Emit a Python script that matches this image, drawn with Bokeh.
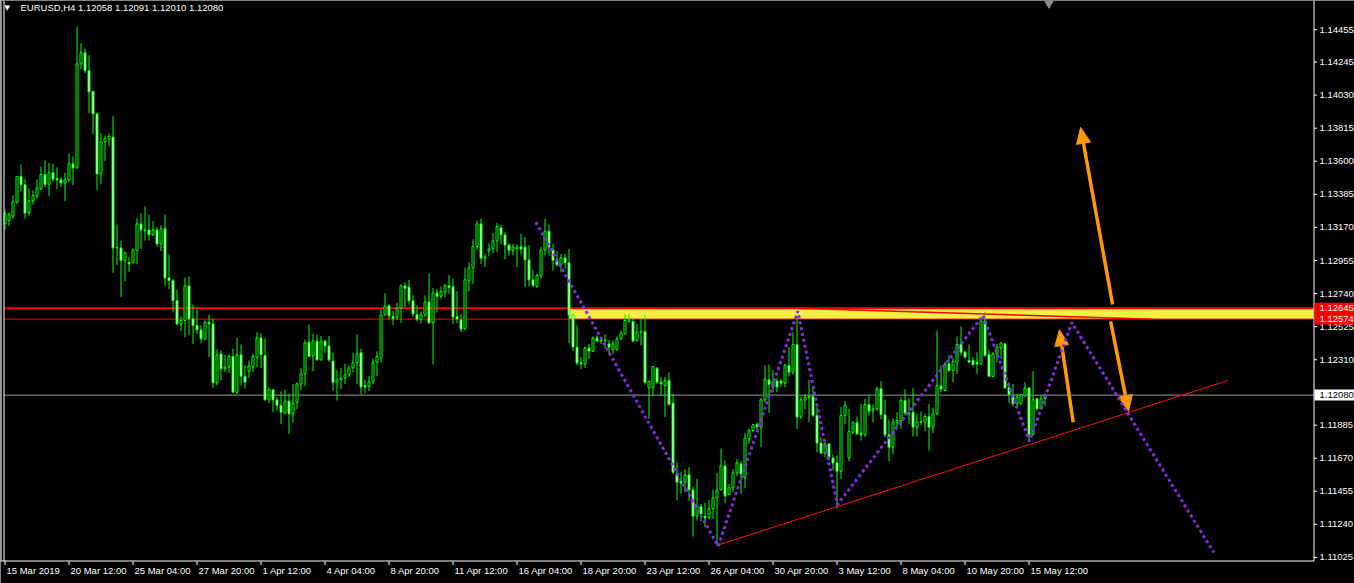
import math
from bokeh.plotting import figure
from bokeh.models import ColumnDataSource, Range1d, Label
from bokeh.core.properties import value
from bokeh.embed import file_html
from bokeh.resources import INLINE

symbol = "EURUSD,H4"

# H4 candles, oldest first
opens = [
    1.13193, 1.13215, 1.13243, 1.13334, 1.13501, 1.13447, 1.13263, 1.13343, 1.13373, 1.13419,
    1.13514, 1.13451, 1.13525, 1.13488, 1.13479, 1.13458, 1.13479, 1.13583, 1.13557, 1.14233,
    1.14305, 1.14190, 1.14054, 1.13908, 1.13518, 1.13726, 1.13744, 1.13757, 1.13037, 1.13037,
    1.12955, 1.12942, 1.12940, 1.13020, 1.13193, 1.13154, 1.13154, 1.13122, 1.13154, 1.13063,
    1.13161, 1.12842, 1.12825, 1.12695, 1.12543, 1.12565, 1.12790, 1.12576, 1.12533, 1.12504,
    1.12446, 1.12554, 1.12543, 1.12160, 1.12348, 1.12251, 1.12262, 1.12331, 1.12099, 1.12342,
    1.12203, 1.12236, 1.12266, 1.12327, 1.12452, 1.12338, 1.12049, 1.12114, 1.12049, 1.12013,
    1.11963, 1.12041, 1.11958, 1.12034, 1.12153, 1.12218, 1.12424, 1.12335, 1.12431, 1.12309,
    1.12431, 1.12400, 1.12301, 1.12164, 1.12181, 1.12192, 1.12212, 1.12257, 1.12290, 1.12355,
    1.12143, 1.12136, 1.12166, 1.12294, 1.12322, 1.12602, 1.12660, 1.12591, 1.12582, 1.12645,
    1.12790, 1.12782, 1.12693, 1.12602, 1.12574, 1.12602, 1.12686, 1.12550, 1.12743, 1.12723,
    1.12749, 1.12790, 1.12784, 1.12591, 1.12569, 1.12509, 1.12823, 1.12907, 1.13046, 1.13193,
    1.12970, 1.13018, 1.13031, 1.13083, 1.13167, 1.13122, 1.13055, 1.13022, 1.13031, 1.13044,
    1.13042, 1.12959, 1.12829, 1.12786, 1.12855, 1.13024, 1.13146, 1.13024, 1.12955, 1.12927,
    1.12972, 1.12940, 1.12602, 1.12392, 1.12290, 1.12283, 1.12387, 1.12366, 1.12452, 1.12439,
    1.12435, 1.12413, 1.12374, 1.12374, 1.12446, 1.12478, 1.12559, 1.12559, 1.12435, 1.12489,
    1.12494, 1.12127, 1.12127, 1.12255, 1.12164, 1.12143, 1.12175, 1.12028, 1.11568, 1.11521,
    1.11514, 1.11562, 1.11464, 1.11293, 1.11356, 1.11293, 1.11282, 1.11341, 1.11412, 1.11464,
    1.11620, 1.11434, 1.11477, 1.11575, 1.11633, 1.11542, 1.11796, 1.11850, 1.11887, 1.11872,
    1.12049, 1.12179, 1.12132, 1.12171, 1.12171, 1.12158, 1.12273, 1.12229, 1.12409, 1.11937,
    1.12049, 1.12062, 1.12071, 1.11948, 1.11768, 1.11703, 1.11763, 1.11672, 1.11640, 1.11586,
    1.11948, 1.11672, 1.11839, 1.11900, 1.11833, 1.11822, 1.12019, 1.11978, 1.11991, 1.12121,
    1.11952, 1.11822, 1.11742, 1.11902, 1.11911, 1.12045, 1.11963, 1.11969, 1.11872, 1.11904,
    1.11904, 1.11941, 1.11872, 1.11958, 1.12140, 1.12110, 1.12283, 1.12240, 1.12294, 1.12409,
    1.12359, 1.12305, 1.12305, 1.12294, 1.12283, 1.12561, 1.12344, 1.12201, 1.12348, 1.12385,
    1.12413, 1.12127, 1.12084, 1.12023, 1.12023, 1.12078, 1.12127, 1.11824, 1.12056, 1.11991,
    1.12058,
]
highs = [
    1.13286, 1.13267, 1.13378, 1.13505, 1.13579, 1.13488, 1.13423, 1.13410, 1.13482, 1.13566,
    1.13605, 1.13590, 1.13583, 1.13560, 1.13497, 1.13525, 1.13648, 1.13631, 1.14476, 1.14366,
    1.14333, 1.14288, 1.14060, 1.13915, 1.13781, 1.13768, 1.13781, 1.13895, 1.13189, 1.13085,
    1.13012, 1.12979, 1.13033, 1.13228, 1.13261, 1.13306, 1.13254, 1.13209, 1.13172, 1.13183,
    1.13254, 1.12994, 1.12835, 1.12764, 1.12591, 1.12845, 1.12851, 1.12669, 1.12637, 1.12533,
    1.12565, 1.12604, 1.12576, 1.12377, 1.12370, 1.12342, 1.12348, 1.12381, 1.12452, 1.12409,
    1.12273, 1.12305, 1.12348, 1.12489, 1.12483, 1.12450, 1.12136, 1.12121, 1.12067, 1.12104,
    1.12114, 1.12084, 1.12153, 1.12162, 1.12257, 1.12442, 1.12539, 1.12478, 1.12474, 1.12465,
    1.12439, 1.12465, 1.12357, 1.12240, 1.12257, 1.12283, 1.12272, 1.12355, 1.12474, 1.12381,
    1.12179, 1.12205, 1.12316, 1.12364, 1.12639, 1.12741, 1.12673, 1.12626, 1.12680, 1.12799,
    1.12814, 1.12829, 1.12728, 1.12663, 1.12624, 1.12728, 1.12871, 1.12777, 1.12771, 1.12786,
    1.12803, 1.12862, 1.12836, 1.12754, 1.12608, 1.12910, 1.12944, 1.13092, 1.13215, 1.13226,
    1.12998, 1.13066, 1.13135, 1.13200, 1.13187, 1.13139, 1.13070, 1.13063, 1.13059, 1.13128,
    1.13107, 1.13053, 1.12894, 1.12868, 1.13042, 1.13226, 1.13189, 1.13063, 1.13016, 1.12998,
    1.12998, 1.13031, 1.12608, 1.12533, 1.12327, 1.12396, 1.12413, 1.12461, 1.12468, 1.12461,
    1.12474, 1.12439, 1.12435, 1.12461, 1.12500, 1.12608, 1.12608, 1.12576, 1.12543, 1.12576,
    1.12602, 1.12175, 1.12270, 1.12262, 1.12197, 1.12197, 1.12227, 1.12088, 1.11644, 1.11579,
    1.11599, 1.11612, 1.11486, 1.11536, 1.11373, 1.11380, 1.11399, 1.11464, 1.11575, 1.11733,
    1.11655, 1.11503, 1.11597, 1.11666, 1.11651, 1.11833, 1.11861, 1.11893, 1.11904, 1.12062,
    1.12275, 1.12279, 1.12244, 1.12190, 1.12186, 1.12283, 1.12392, 1.12489, 1.12608, 1.12071,
    1.12084, 1.12179, 1.12121, 1.12002, 1.11807, 1.11774, 1.11768, 1.11694, 1.11688, 1.12002,
    1.12041, 1.11991, 1.11911, 1.11941, 1.12023, 1.12056, 1.12078, 1.12019, 1.12136, 1.12169,
    1.12052, 1.11922, 1.11930, 1.11969, 1.12067, 1.12117, 1.12062, 1.12127, 1.11958, 1.11974,
    1.11958, 1.12023, 1.11997, 1.12500, 1.12273, 1.12294, 1.12338, 1.12320, 1.12461, 1.12526,
    1.12370, 1.12409, 1.12327, 1.12359, 1.12587, 1.12624, 1.12374, 1.12359, 1.12413, 1.12424,
    1.12418, 1.12164, 1.12153, 1.12088, 1.12088, 1.12164, 1.12132, 1.12236, 1.12062, 1.12082,
    1.12091,
]
lows = [
    1.13156, 1.13178, 1.13228, 1.13321, 1.13404, 1.13228, 1.13248, 1.13319, 1.13358, 1.13415,
    1.13432, 1.13373, 1.13469, 1.13419, 1.13432, 1.13339, 1.13464, 1.13443, 1.13550, 1.14197,
    1.14173, 1.13913, 1.13778, 1.13412, 1.13451, 1.13601, 1.13698, 1.12875, 1.12927, 1.12717,
    1.12821, 1.12879, 1.12935, 1.12933, 1.13029, 1.13085, 1.13085, 1.13115, 1.13042, 1.13016,
    1.12790, 1.12769, 1.12619, 1.12533, 1.12496, 1.12457, 1.12468, 1.12413, 1.12478, 1.12418,
    1.12439, 1.12327, 1.12127, 1.12143, 1.12175, 1.12229, 1.12223, 1.12093, 1.12088, 1.12143,
    1.12121, 1.12192, 1.12229, 1.12262, 1.12255, 1.12045, 1.12028, 1.11969, 1.11980, 1.11893,
    1.11954, 1.11828, 1.11904, 1.11989, 1.12110, 1.12138, 1.12327, 1.12236, 1.12305, 1.12305,
    1.12353, 1.12296, 1.12110, 1.12045, 1.12121, 1.12153, 1.12197, 1.12229, 1.12153, 1.12084,
    1.12093, 1.12106, 1.12153, 1.12203, 1.12292, 1.12595, 1.12569, 1.12535, 1.12569, 1.12550,
    1.12652, 1.12669, 1.12591, 1.12559, 1.12543, 1.12587, 1.12543, 1.12279, 1.12619, 1.12706,
    1.12717, 1.12738, 1.12543, 1.12548, 1.12489, 1.12504, 1.12754, 1.12803, 1.13024, 1.12933,
    1.12912, 1.12983, 1.13003, 1.13009, 1.13059, 1.12962, 1.12988, 1.12988, 1.12912, 1.12994,
    1.12782, 1.12786, 1.12782, 1.12775, 1.12836, 1.12988, 1.12988, 1.12890, 1.12916, 1.12879,
    1.12901, 1.12418, 1.12366, 1.12273, 1.12249, 1.12257, 1.12314, 1.12359, 1.12424, 1.12413,
    1.12381, 1.12348, 1.12348, 1.12370, 1.12440, 1.12474, 1.12554, 1.12424, 1.12430, 1.12403,
    1.12149, 1.11926, 1.12078, 1.12153, 1.12078, 1.11937, 1.12013, 1.11568, 1.11395, 1.11438,
    1.11449, 1.11395, 1.11161, 1.11265, 1.11261, 1.11222, 1.11276, 1.11276, 1.11103, 1.11460,
    1.11378, 1.11430, 1.11449, 1.11553, 1.11438, 1.11477, 1.11763, 1.11839, 1.11846, 1.11742,
    1.12034, 1.11965, 1.12099, 1.12099, 1.12132, 1.12132, 1.12201, 1.12214, 1.11861, 1.11926,
    1.11987, 1.11904, 1.11937, 1.11709, 1.11698, 1.11677, 1.11655, 1.11590, 1.11341, 1.11536,
    1.11893, 1.11649, 1.11828, 1.11824, 1.11785, 1.11807, 1.11948, 1.11904, 1.11980, 1.11922,
    1.11807, 1.11649, 1.11698, 1.11872, 1.11861, 1.11948, 1.11893, 1.11811, 1.11811, 1.11883,
    1.11846, 1.11720, 1.11833, 1.11953, 1.12099, 1.12104, 1.12229, 1.12164, 1.12218, 1.12338,
    1.12316, 1.12288, 1.12262, 1.12218, 1.12279, 1.12331, 1.12197, 1.12197, 1.12294, 1.12316,
    1.12121, 1.12028, 1.12006, 1.12006, 1.12019, 1.12067, 1.11774, 1.11818, 1.11980, 1.11989,
    1.12010,
]
closes = [
    1.13263, 1.13252, 1.13336, 1.13501, 1.13447, 1.13263, 1.13343, 1.13378, 1.13427, 1.13514,
    1.13451, 1.13525, 1.13484, 1.13479, 1.13458, 1.13479, 1.13583, 1.13557, 1.14233, 1.14305,
    1.14190, 1.14051, 1.13908, 1.13518, 1.13726, 1.13746, 1.13761, 1.13037, 1.13040, 1.12955,
    1.13005, 1.12933, 1.13024, 1.13193, 1.13154, 1.13150, 1.13122, 1.13154, 1.13063, 1.13161,
    1.12842, 1.12825, 1.12695, 1.12543, 1.12565, 1.12790, 1.12576, 1.12533, 1.12504, 1.12446,
    1.12554, 1.12543, 1.12160, 1.12342, 1.12251, 1.12262, 1.12331, 1.12099, 1.12342, 1.12203,
    1.12164, 1.12270, 1.12331, 1.12452, 1.12342, 1.12049, 1.12114, 1.12049, 1.12013, 1.11969,
    1.12041, 1.11958, 1.12028, 1.12153, 1.12218, 1.12420, 1.12331, 1.12431, 1.12309, 1.12431,
    1.12400, 1.12309, 1.12164, 1.12179, 1.12192, 1.12212, 1.12257, 1.12290, 1.12348, 1.12132,
    1.12132, 1.12166, 1.12294, 1.12331, 1.12602, 1.12660, 1.12595, 1.12578, 1.12645, 1.12790,
    1.12775, 1.12693, 1.12608, 1.12574, 1.12602, 1.12686, 1.12550, 1.12743, 1.12723, 1.12754,
    1.12793, 1.12780, 1.12587, 1.12574, 1.12509, 1.12829, 1.12907, 1.13046, 1.13193, 1.12970,
    1.12979, 1.13031, 1.13083, 1.13176, 1.13122, 1.13055, 1.13022, 1.13042, 1.13044, 1.13029,
    1.12959, 1.12829, 1.12793, 1.12858, 1.13024, 1.13146, 1.13042, 1.12955, 1.12927, 1.12972,
    1.12940, 1.12598, 1.12392, 1.12288, 1.12283, 1.12387, 1.12366, 1.12452, 1.12431, 1.12431,
    1.12439, 1.12392, 1.12413, 1.12446, 1.12483, 1.12565, 1.12569, 1.12431, 1.12489, 1.12496,
    1.12164, 1.12169, 1.12266, 1.12164, 1.12153, 1.12175, 1.12019, 1.11579, 1.11514, 1.11508,
    1.11562, 1.11464, 1.11293, 1.11356, 1.11308, 1.11282, 1.11341, 1.11412, 1.11464, 1.11620,
    1.11425, 1.11477, 1.11575, 1.11640, 1.11568, 1.11800, 1.11850, 1.11887, 1.11872, 1.12049,
    1.12184, 1.12149, 1.12164, 1.12132, 1.12158, 1.12273, 1.12229, 1.12409, 1.11937, 1.12049,
    1.12067, 1.12071, 1.11948, 1.11768, 1.11703, 1.11763, 1.11677, 1.11638, 1.11586, 1.11948,
    1.12013, 1.11844, 1.11900, 1.11828, 1.11822, 1.12019, 1.11976, 1.11991, 1.12121, 1.11952,
    1.11822, 1.11742, 1.11904, 1.11915, 1.12045, 1.11963, 1.11958, 1.11872, 1.11904, 1.11909,
    1.11941, 1.11872, 1.11958, 1.12143, 1.12119, 1.12283, 1.12240, 1.12299, 1.12409, 1.12359,
    1.12327, 1.12294, 1.12279, 1.12283, 1.12561, 1.12338, 1.12201, 1.12348, 1.12392, 1.12418,
    1.12127, 1.12084, 1.12023, 1.12067, 1.12084, 1.12127, 1.11824, 1.12049, 1.11991, 1.12056,
    1.12080,
]

time_tick_bars = [0, 16, 32, 48, 64, 80, 96, 112, 128, 144, 160, 176, 192, 208, 224, 240, 256]
time_tick_labels = ["15 Mar 2019", "20 Mar 12:00", "25 Mar 04:00", "27 Mar 20:00",
                    "1 Apr 12:00", "4 Apr 04:00", "8 Apr 20:00", "11 Apr 12:00",
                    "16 Apr 04:00", "18 Apr 20:00", "23 Apr 12:00", "26 Apr 04:00",
                    "30 Apr 20:00", "3 May 12:00", "8 May 04:00", "10 May 20:00",
                    "15 May 12:00"]
price_ticks = [1.11025, 1.11240, 1.11455, 1.11670, 1.11885, 1.12095, 1.12310, 1.12525,
               1.12740, 1.12955, 1.13170, 1.13385, 1.13600, 1.13815, 1.14030, 1.14245,
               1.14455]

# supply zone and hand-drawn analysis objects (bar index, price)
zone_top, zone_bottom = 1.12645, 1.12574
zone_start_bar = 141
zigzag_bars = [132.7, 178.3, 198.2, 208.1, 244.5, 256.1, 266.7, 302.2]
zigzag_prices = [1.13204, 1.11098, 1.12625, 1.11369, 1.12598, 1.11780, 1.12552, 1.11057]
support_bars = [178, 305.7]
support_prices = [1.11103, 1.12175]
zone_line_bars = [198, 287]
zone_line_prices = [1.12645, 1.12573]
arrow_from_bars = [276.9, 276.4, 267.05]
arrow_from_prices = [1.12669, 1.12559, 1.11904]
arrow_to_bars = [268.9, 280.9, 263.6]
arrow_to_prices = [1.13820, 1.11974, 1.12505]

# ---- layout: the plot frame fills the canvas, the price/time scales are drawn in it ----
W, H = 1354, 583
CHART_R, CHART_B = 1313, 560          # right and bottom edge of the price pane (px)
BAR_PX, FIRST_BAR_PX = 4.0, 4.5       # candle spacing and centre of bar 0 (px)
PRICE_TOP, PRICE_PER_PX = 1.14645, 0.000065


def bx(px):
    """canvas x pixel -> bar index"""
    return (px - FIRST_BAR_PX) / BAR_PX


def py(px):
    """canvas y pixel (from top) -> price"""
    return PRICE_TOP - px * PRICE_PER_PX


FONT = "Liberation Sans"
LIME = "#00ff00"
ORANGE = "#ff9a00"
PURPLE = "#8a2be2"
RED = "#ff0000"

p = figure(width=W, height=H, x_range=Range1d(bx(0), bx(W)), y_range=Range1d(py(H), py(0)),
           output_backend="svg", toolbar_location=None, x_axis_location=None,
           y_axis_location=None, min_border=0, background_fill_color="black",
           border_fill_color="black", outline_line_color=None)
for g in p.grid:
    g.visible = False


# ---- orange arrows (sit underneath the zone) ----
def arrow_head(fx, fy, tx, ty, length=16.0, half=7.0):
    dx = (tx - fx) * BAR_PX
    dy = (ty - fy) / PRICE_PER_PX
    n = math.hypot(dx, dy)
    ux, uy = dx / n, dy / n
    nx, ny = -uy, ux
    pts = [(0.0, 0.0),
           (-length * ux + half * nx, -length * uy + half * ny),
           (-length * ux - half * nx, -length * uy - half * ny)]
    xs = [tx + a / BAR_PX for a, _ in pts]
    ys = [ty + b * PRICE_PER_PX for _, b in pts]
    sx = tx - (length - 3) * ux / BAR_PX
    sy = ty - (length - 3) * uy * PRICE_PER_PX
    return xs, ys, sx, sy


head_xs, head_ys, shaft_x1, shaft_y1 = [], [], [], []
for fx, fy, tx, ty in zip(arrow_from_bars, arrow_from_prices, arrow_to_bars, arrow_to_prices):
    hx, hy, sx, sy = arrow_head(fx, fy, tx, ty)
    head_xs.append(hx)
    head_ys.append(hy)
    shaft_x1.append(sx)
    shaft_y1.append(sy)
p.segment(x0=arrow_from_bars, y0=arrow_from_prices, x1=shaft_x1, y1=shaft_y1,
          line_color=ORANGE, line_width=3.5)
p.patches(xs=head_xs, ys=head_ys, fill_color=ORANGE, line_color=ORANGE, line_width=1)

# ---- supply zone and horizontal levels ----
p.quad(left=[zone_start_bar], right=[bx(CHART_R)], top=[zone_top], bottom=[zone_bottom],
       fill_color="#f4f045", line_color=None)
p.segment(x0=[bx(3.5)] * 2, y0=[zone_top, zone_bottom], x1=[bx(CHART_R)] * 2,
          y1=[zone_top, zone_bottom], line_color=RED, line_width=[2, 1])
p.segment(x0=[bx(3.5)], y0=[closes[-1]], x1=[bx(CHART_R)], y1=[closes[-1]],
          line_color="#9a9a9a", line_width=1)

# ---- candles ----
bars = list(range(len(opens)))
src = ColumnDataSource(dict(
    x=bars, o=opens, h=highs, l=lows, c=closes,
    top=[max(a, b) for a, b in zip(opens, closes)],
    bottom=[min(a, b) for a, b in zip(opens, closes)],
    fill=["white" if c < o else "black" for o, c in zip(opens, closes)],
))
p.segment(x0="x", y0="l", x1="x", y1="h", line_color=LIME, line_width=1, source=src)
p.vbar(x="x", width=0.5, top="top", bottom="bottom", fill_color="fill",
       line_color=LIME, line_width=1, source=src)

# ---- trend lines and projected path ----
p.line(zone_line_bars, zone_line_prices, line_color=RED, line_width=1.5)
p.line(support_bars, support_prices, line_color="#ff1010", line_width=1)
p.line(zigzag_bars, zigzag_prices, line_color=PURPLE, line_width=3, line_dash="3 3")

# chart-shift marker at the top edge
p.scatter(x=[len(opens)], y=[py(2)], marker="inverted_triangle",
          size=10, fill_color="#8c8c8c", line_color="#8c8c8c")

# ---- pane borders ----
p.segment(x0=[bx(0.5), bx(3.5), bx(CHART_R + 0.5)], y0=[py(0)] * 3,
          x1=[bx(0.5), bx(3.5), bx(CHART_R + 0.5)], y1=[py(CHART_B + 0.5)] * 3,
          line_color="white", line_width=1)
p.segment(x0=[bx(0)], y0=[py(CHART_B + 0.5)], x1=[bx(CHART_R + 0.5)],
          y1=[py(CHART_B + 0.5)], line_color="white", line_width=1)

# ---- price scale ----
p.segment(x0=[bx(CHART_R + 0.5)] * len(price_ticks), y0=price_ticks,
          x1=[bx(CHART_R + 3.5)] * len(price_ticks), y1=price_ticks,
          line_color="white", line_width=1)
p.text(x=[bx(CHART_R + 6)] * len(price_ticks), y=price_ticks,
       text=[f"{t:.5f}" for t in price_ticks], text_color="white",
       text_font=value(FONT), text_font_size=value("9.5px"),
       text_align="left", text_baseline="middle")

# ---- time scale ----
p.segment(x0=time_tick_bars, y0=[py(CHART_B + 0.5)] * len(time_tick_bars),
          x1=time_tick_bars, y1=[py(CHART_B + 4.5)] * len(time_tick_bars),
          line_color="white", line_width=1)
p.text(x=[b + 1.5 / BAR_PX for b in time_tick_bars], y=[py(570)] * len(time_tick_bars),
       text=time_tick_labels, text_color="white",
       text_font=value(FONT), text_font_size=value("9.5px"),
       text_align="left", text_baseline="middle")

# ---- price tags on the scale ----
tag_prices = [zone_top, zone_bottom, closes[-1]]
tag_fill = [RED, RED, "white"]
tag_text = ["white", "white", "black"]
p.quad(left=[bx(CHART_R + 1)] * 3, right=[bx(W)] * 3,
       top=[t + 5.5 * PRICE_PER_PX for t in tag_prices],
       bottom=[t - 5.5 * PRICE_PER_PX for t in tag_prices],
       fill_color=tag_fill, line_color=None)
p.text(x=[bx(CHART_R + 6)] * 3, y=tag_prices, text=[f"{t:.5f}" for t in tag_prices],
       text_color=tag_text, text_font=value(FONT), text_font_size=value("9.5px"),
       text_align="left", text_baseline="middle")

# ---- header ----
header = f"{symbol}  {opens[-1]:.5f} {highs[-1]:.5f} {lows[-1]:.5f} {closes[-1]:.5f}"
p.add_layout(Label(x=4, y=H - 7, x_units="screen", y_units="screen", text="\u25bc",
                   text_color="white", text_font="DejaVu Sans", text_font_size="7px",
                   text_baseline="middle"))
p.add_layout(Label(x=20, y=H - 7, x_units="screen", y_units="screen", text=header,
                   text_color="white", text_font=FONT, text_font_size="9.5px",
                   text_baseline="middle"))

open("out.html", "w").write(file_html(p, INLINE))
